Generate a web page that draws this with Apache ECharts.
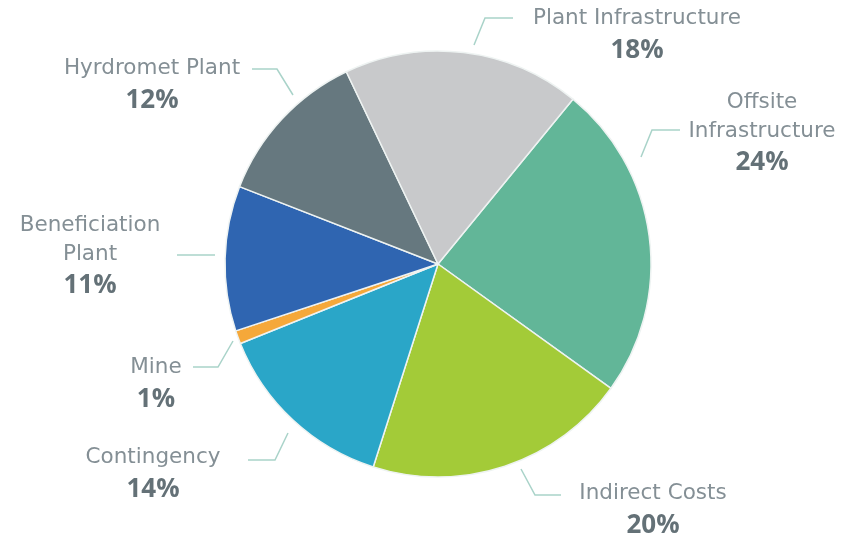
<!DOCTYPE html>
<html>
<head>
<meta charset="utf-8">
<script src="https://cdn.jsdelivr.net/npm/echarts@6/dist/echarts.min.js"></script>
<style>
  html, body { margin: 0; padding: 0; background: #ffffff; }
  #chart { width: 851px; height: 537px; }
</style>
</head>
<body>
<div id="chart"></div>
<script>
// ---- data ----
const categories = ['Offsite\nInfrastructure', 'Indirect Costs', 'Contingency', 'Mine', 'Beneficiation\nPlant', 'Hyrdromet Plant', 'Plant Infrastructure'];
const values = [24, 20, 14, 1, 11, 12, 18];

// ---- styling ----
const colors = ['#62b698', '#a3cb38', '#2aa6c8', '#f5a83a', '#2f65b1', '#66787f', '#c8c9cb'];
// label block centres and leader-line points (annotation layout)
const labelPos = [
  [762, 134], [653, 511], [153, 475], [156, 385], [90, 257], [152, 86], [637, 36]
];
const linePts = [
  [[641, 157], [652, 130], [680, 130]],
  [[521, 469], [535, 495], [561, 495]],
  [[288, 433], [275, 460], [248, 460]],
  [[233, 341], [218, 367], [193, 367]],
  [[215, 255], [196, 255], [177, 255]],
  [[293, 95], [277, 69], [252, 69]],
  [[474, 45], [485, 18], [513, 18]]
];

const chart = echarts.init(document.getElementById('chart'), null, { renderer: 'canvas' });

chart.setOption({
  backgroundColor: '#ffffff',
  animation: false,
  series: [{
    type: 'pie',
    center: [438, 264],
    radius: 213,
    startAngle: 50.7,
    clockwise: true,
    avoidLabelOverlap: false,
    data: categories.map((c, i) => ({
      name: c, value: values[i],
      itemStyle: { color: colors[i] }
    })),
    itemStyle: { borderColor: '#eef3f2', borderWidth: 1.5 },
    label: {
      show: true,
      position: 'outside',
      formatter: p => p.name.split('\n').map(s => '{n|' + s + '}').join('\n') + '\n{p|' + p.value + '%}',
      align: 'center',
      rich: {
        n: { fontFamily: 'DejaVu Sans', fontSize: 21.5, fontWeight: 'normal', color: '#848f95', lineHeight: 29, align: 'center' },
        p: { fontFamily: 'Open Sans', fontSize: 26, fontWeight: 'bold', color: '#647177', lineHeight: 35, align: 'center' }
      }
    },
    labelLine: {
      show: true,
      lineStyle: { color: '#a9d3c9', width: 1.5 }
    },
    labelLayout: function (params) {
      const i = params.dataIndex;
      return {
        x: labelPos[i][0],
        y: labelPos[i][1],
        align: 'center',
        verticalAlign: 'middle',
        labelLinePoints: linePts[i]
      };
    }
  }]
});
</script>
</body>
</html>
